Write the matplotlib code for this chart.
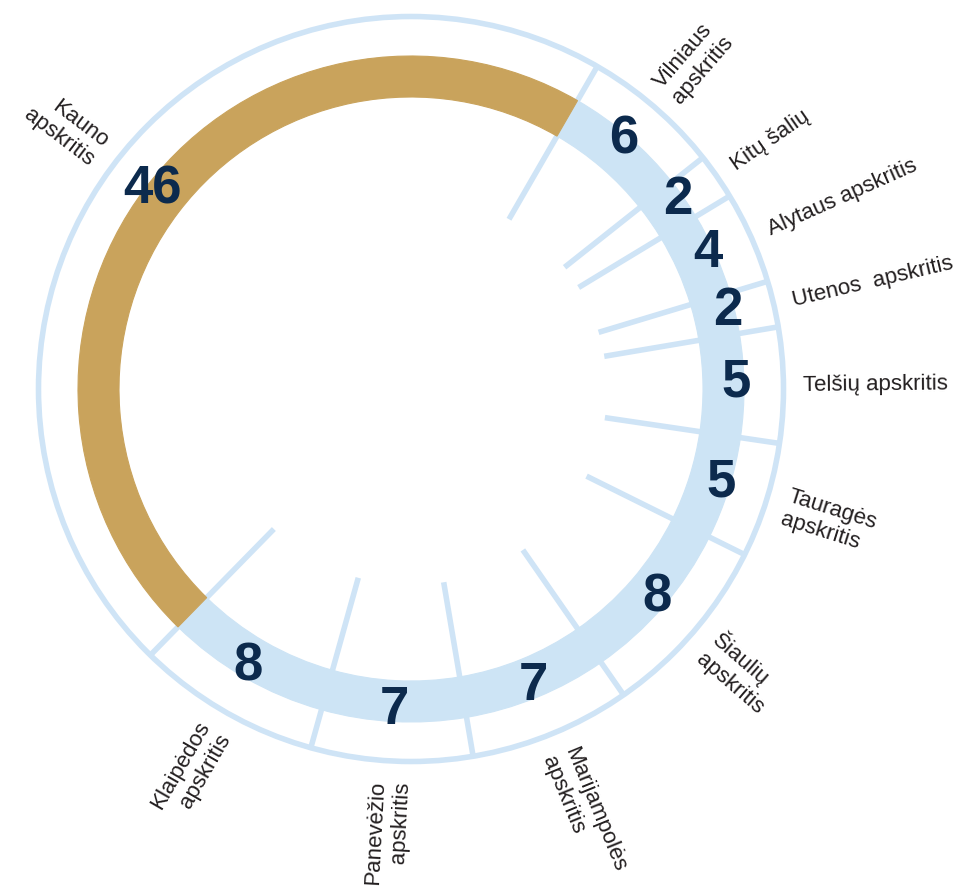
import matplotlib
matplotlib.use("Agg")
import matplotlib.pyplot as plt
import numpy as np

# ---- data (clockwise from the top-right boundary) ----
categories = ["Vilniaus\napskritis", "Kitų šalių", "Alytaus apskritis", "Utenos  apskritis",
              "Telšių apskritis", "Tauragės\napskritis", "Šiaulių\napskritis",
              "Marijampolės\napskritis", "Panevėžio\napskritis", "Klaipėdos\napskritis",
              "Kauno\napskritis"]
values = [6, 2, 4, 2, 5, 5, 8, 7, 7, 8, 46]
highlight = "Kauno\napskritis"

# ---- style ----
BLUE = "#cde4f5"
LINE = "#cfe4f6"
GOLD = "#c9a35c"
NAVY = "#0c2a4d"
TEXT = "#231f20"
FONT = ["Liberation Sans", "DejaVu Sans"]

W, H = 972, 887
fig = plt.figure(figsize=(W / 100, H / 100), dpi=100)
ax = fig.add_axes([0, 0, 1, 1])

cx, cy = 411, H - 390
R_OUT = 333
R_IN = 292
R_CIRCLE = 372.5
R_SPOKE = 196
R_NUM = 325
NUM_LIFT = 10
R_LABEL = 392
START = 30  # degrees clockwise from the top

total = sum(values)
fracs = np.array(values, dtype=float) / total
ends = START + 360 * np.cumsum(fracs)
starts = ends - 360 * fracs
mids = (starts + ends) / 2


def pt(r, theta, lift=0.0):
    t = np.deg2rad(theta)
    return cx + r * np.sin(t), cy + lift + r * np.cos(t)


lw = 4.0
for b in starts:
    x0, y0 = pt(R_SPOKE, b)
    x1, y1 = pt(R_CIRCLE, b)
    ax.plot([x0, x1], [y0, y1], color=LINE, lw=lw, solid_capstyle="butt", zorder=1)

ax.add_patch(plt.Circle((cx, cy), R_CIRCLE, fill=False, ec=LINE, lw=lw, zorder=1))

colors = [GOLD if c == highlight else BLUE for c in categories]
wedges, _ = ax.pie(values, colors=colors, startangle=90 - START, counterclock=False,
                   radius=R_OUT, center=(cx, cy),
                   wedgeprops=dict(width=R_OUT - R_IN, linewidth=0.8), frame=False)
for w in wedges:
    w.set_edgecolor(w.get_facecolor())
    w.set_zorder(2)

for v, m in zip(values, mids):
    x, y = pt(R_NUM, m, NUM_LIFT)
    ax.text(x, y, str(v), ha="center", va="center_baseline", fontsize=38,
            fontweight="bold", color=NAVY, family=FONT, zorder=5)

for c, m in zip(categories, mids):
    x, y = pt(R_LABEL, m)
    if m % 360 < 180:
        rot, ha = 90 - m, "left"
    else:
        rot, ha = 270 - (m % 360), "right"
    ax.text(x, y, c, rotation=rot, rotation_mode="anchor", ha=ha, va="center",
            multialignment=ha, fontsize=16, color=TEXT, family=FONT, zorder=5)

ax.set_xlim(0, W)
ax.set_ylim(0, H)
ax.set_aspect("equal")
ax.set_axis_off()

fig.savefig("out.png", dpi=100)
